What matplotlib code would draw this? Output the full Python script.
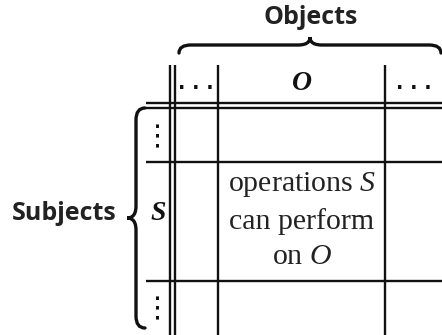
import matplotlib
matplotlib.use("Agg")
import matplotlib.pyplot as plt
from matplotlib.path import Path
import matplotlib.patches as patches

# labels of the access matrix
col_labels = ["\u00b7 \u00b7 \u00b7", "O", "\u00b7 \u00b7 \u00b7"]
row_labels = ["\u22ee", "S", "\u22ee"]
cell_text = "operations $\\mathit{S}$\ncan perform\non $\\mathit{O}$"
top_title = "Objects"
side_title = "Subjects"

# layout in pixels (y grows downward)
W, H = 442, 335
col_edges = [218, 385]          # inner column separators
dbl_v = [170, 174.5]            # double line after the row headers
dbl_h = [102.7, 108]            # double line under the column headers
row_edges = [162.3, 280.7]
col_centers = [196, 302, 414]
row_centers = [137.5, 213, 309]
header_y = 83
label_x = 158
grid_left = 146
grid_top = 65

fig = plt.figure(figsize=(W / 100, H / 100), dpi=100)
ax = fig.add_axes([0, 0, 1, 1])
ax.set_xlim(0, W)
ax.set_ylim(H, 0)
ax.axis("off")

lw = 1.7
for x in dbl_v + col_edges:
    ax.plot([x, x], [grid_top, H], color="#111111", lw=lw, solid_capstyle="butt")
for y in dbl_h + row_edges:
    ax.plot([grid_left, W], [y, y], color="#111111", lw=lw, solid_capstyle="butt")

serif = "Liberation Serif"
for lab, cx in zip(col_labels, col_centers):
    if lab == "O":
        ax.text(cx, header_y, lab, family=serif, fontsize=20, fontweight="bold",
                style="italic", ha="center", va="center", color="#111111")
    else:
        ax.text(cx, header_y + 5, lab, family="DejaVu Sans", fontsize=14,
                fontweight="bold", ha="center", va="center", color="#111111")

for lab, cy in zip(row_labels, row_centers):
    if lab == "S":
        ax.text(label_x, cy, lab, family=serif, fontsize=20, fontweight="bold",
                style="italic", ha="center", va="center", color="#111111")
    else:
        ax.text(label_x, cy, lab, family="DejaVu Sans", fontsize=21,
                ha="center", va="center", color="#111111")

plt.rcParams["mathtext.fontset"] = "custom"
plt.rcParams["mathtext.it"] = "Liberation Serif:italic"
ax.text(col_centers[1], 220, cell_text, family=serif, fontsize=21.5,
        ha="center", va="center", linespacing=1.46, color="#222222")

ax.text(311, 18, top_title, family="Open Sans", fontsize=18, fontweight="bold",
        ha="center", va="center", color="#222222")
ax.text(64, 213, side_title, family="Open Sans", fontsize=18, fontweight="bold",
        ha="center", va="center", color="#222222")


def hbrace(x0, x1, y, tip, cusp):
    xm = (x0 + x1) / 2
    r = 12
    verts = [(x0, y + tip), (x0, y), (x0 + r, y),
             (xm - r, y),
             (xm, y), (xm, y - cusp + 2), (xm, y - cusp)]
    verts += [(xm, y - cusp + 2), (xm, y), (xm + r, y),
              (x1 - r, y),
              (x1, y), (x1, y + tip)]
    codes = [Path.MOVETO, Path.CURVE3, Path.CURVE3, Path.LINETO,
             Path.CURVE4, Path.CURVE4, Path.CURVE4,
             Path.CURVE4, Path.CURVE4, Path.CURVE4, Path.LINETO,
             Path.CURVE3, Path.CURVE3]
    return Path(verts, codes)


def vbrace(x, y0, y1, tip, cusp, ym):
    r = 12
    verts = [(x + tip, y0), (x, y0), (x, y0 + r),
             (x, ym - r),
             (x, ym), (x - cusp + 2, ym), (x - cusp, ym)]
    verts += [(x - cusp + 2, ym), (x, ym), (x, ym + r),
              (x, y1 - r),
              (x, y1), (x + tip, y1)]
    codes = [Path.MOVETO, Path.CURVE3, Path.CURVE3, Path.LINETO,
             Path.CURVE4, Path.CURVE4, Path.CURVE4,
             Path.CURVE4, Path.CURVE4, Path.CURVE4, Path.LINETO,
             Path.CURVE3, Path.CURVE3]
    return Path(verts, codes)


ax.add_patch(patches.PathPatch(hbrace(179, 441, 45, 8, 8), fill=False,
                               lw=2.4, color="#111111", capstyle="round"))
ax.add_patch(patches.PathPatch(vbrace(136, 108, 328, 9, 9, 218), fill=False,
                               lw=2.4, color="#111111", capstyle="round"))

fig.savefig("out.png", dpi=100)
